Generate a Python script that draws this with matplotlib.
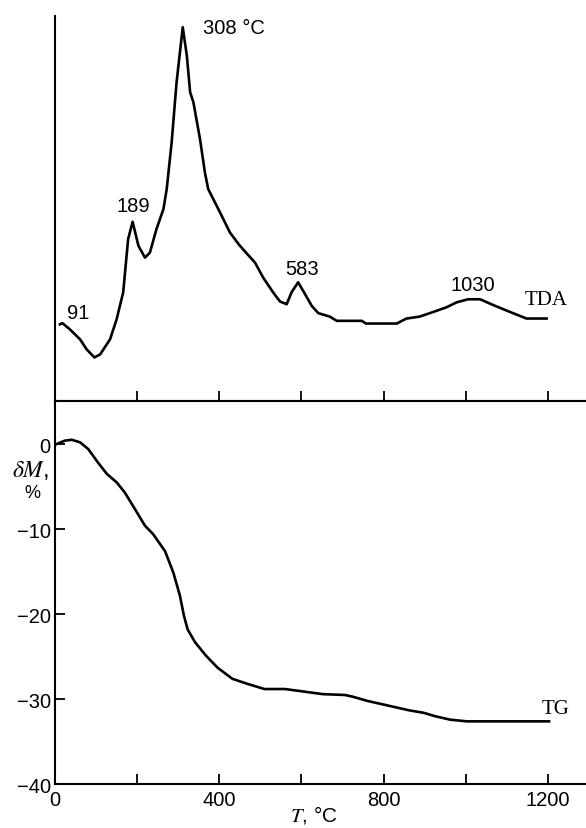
import matplotlib
matplotlib.use("Agg")
import matplotlib.pyplot as plt

# DTA curve (arbitrary units, 0..100)
tda_T = [12, 18, 36, 61, 77, 96, 110, 134, 150, 166, 178, 189, 203, 219, 231,
         247, 264, 272, 284, 296, 311, 321, 329, 337, 353, 365, 373, 402, 426,
         450, 487, 507, 531, 548, 560, 564, 576, 592, 609, 625, 641, 669, 686,
         747, 757, 832, 856, 888, 921, 953, 978, 1006, 1035, 1067, 1108, 1148, 1197]
tda_y = [19.9, 20.2, 18.6, 16.0, 13.4, 11.3, 12.1, 16.0, 21.2, 28.2, 42.0, 46.5,
         40.3, 37.2, 38.5, 44.6, 49.8, 55.0, 67.1, 82.7, 97.0, 89.6, 80.1, 77.5,
         68.0, 59.3, 55.0, 48.9, 43.7, 40.3, 35.9, 32.0, 28.2, 25.8, 25.3, 25.1,
         28.2, 30.8, 27.7, 24.7, 22.8, 21.9, 20.8, 20.8, 20.1, 20.1, 21.4, 21.9,
         23.1, 24.3, 25.6, 26.4, 26.4, 24.9, 23.1, 21.4, 21.4]

# TG curve, mass loss in %
tg_T = [4, 24, 41, 61, 81, 105, 126, 150, 170, 199, 219, 239, 268, 288, 304,
        314, 323, 341, 368, 396, 432, 469, 510, 560, 606, 652, 706, 725, 761,
        816, 862, 898, 926, 962, 1003, 1203]
tg_y = [0.0, 0.4, 0.5, 0.2, -0.6, -2.2, -3.5, -4.5, -5.7, -8.0, -9.6, -10.6,
        -12.6, -15.1, -17.8, -20.2, -21.8, -23.3, -24.9, -26.3, -27.6, -28.2,
        -28.8, -28.8, -29.1, -29.4, -29.5, -29.7, -30.2, -30.8, -31.3, -31.6,
        -32.0, -32.4, -32.6, -32.6]

peak_labels = ["91", "189", "308 °C", "583", "1030"]
peak_T = [56, 190, 360, 601, 1018]
peak_y = [23.0, 50.8, 96.8, 34.5, 30.3]

x_ticks = [0, 200, 400, 600, 800, 1000, 1200]
x_labels = ["0", "", "400", "", "800", "", "1200"]
y_ticks = [-40, -30, -20, -10, 0]
y_labels = ["\u221240", "\u221230", "\u221220", "\u221210", "0"]

plt.rcParams["font.family"] = ["Liberation Sans", "DejaVu Sans"]
plt.rcParams["mathtext.fontset"] = "stix"

fig = plt.figure(figsize=(5.86, 8.29), dpi=100)
ax1 = fig.add_axes([0.0939, 0.5151, 0.9061, 0.4648])
ax2 = fig.add_axes([0.0939, 0.0527, 0.9061, 0.4624])

lw = 1.9
ax1.plot(tda_T, tda_y, color="black", lw=lw)
ax2.plot(tg_T, tg_y, color="black", lw=lw)

for ax in (ax1, ax2):
    ax.set_xlim(0, 1293)
    ax.spines["right"].set_visible(False)
    for s in ("left", "bottom", "top"):
        ax.spines[s].set_linewidth(1.5)
    ax.tick_params(direction="in", length=7, width=1.3, labelsize=14.5)
    ax.set_xticks(x_ticks)

ax1.set_ylim(0, 100)
ax1.spines["top"].set_visible(False)
ax1.set_yticks([])
ax1.set_xticklabels([])

ax2.set_ylim(-40, 5.06)
ax2.set_xticklabels(x_labels)
ax2.set_yticks(y_ticks)
ax2.set_yticklabels(y_labels)
ax2.tick_params(axis="x", pad=4)
ax2.tick_params(axis="y", pad=3)

for lab, t, y in zip(peak_labels, peak_T, peak_y):
    ha = "left" if lab.endswith("C") else "center"
    ax1.text(t, y, lab, fontsize=14.5, ha=ha, va="center")
ax1.text(1144, 26.4, "TDA", fontsize=15, family="Liberation Serif", ha="left", va="center")
ax2.text(1186, -31.1, "TG", fontsize=15, family="Liberation Serif", ha="left", va="center")

fig.text(0.052, 0.433, r"$\delta M$,", fontsize=17, ha="center", va="center")
fig.text(0.055, 0.405, "%", fontsize=13, ha="center", va="center")
fig.text(0.535, 0.004, r"$T$, °C", fontsize=15, ha="center", va="bottom")

fig.savefig("out.png", dpi=100)
